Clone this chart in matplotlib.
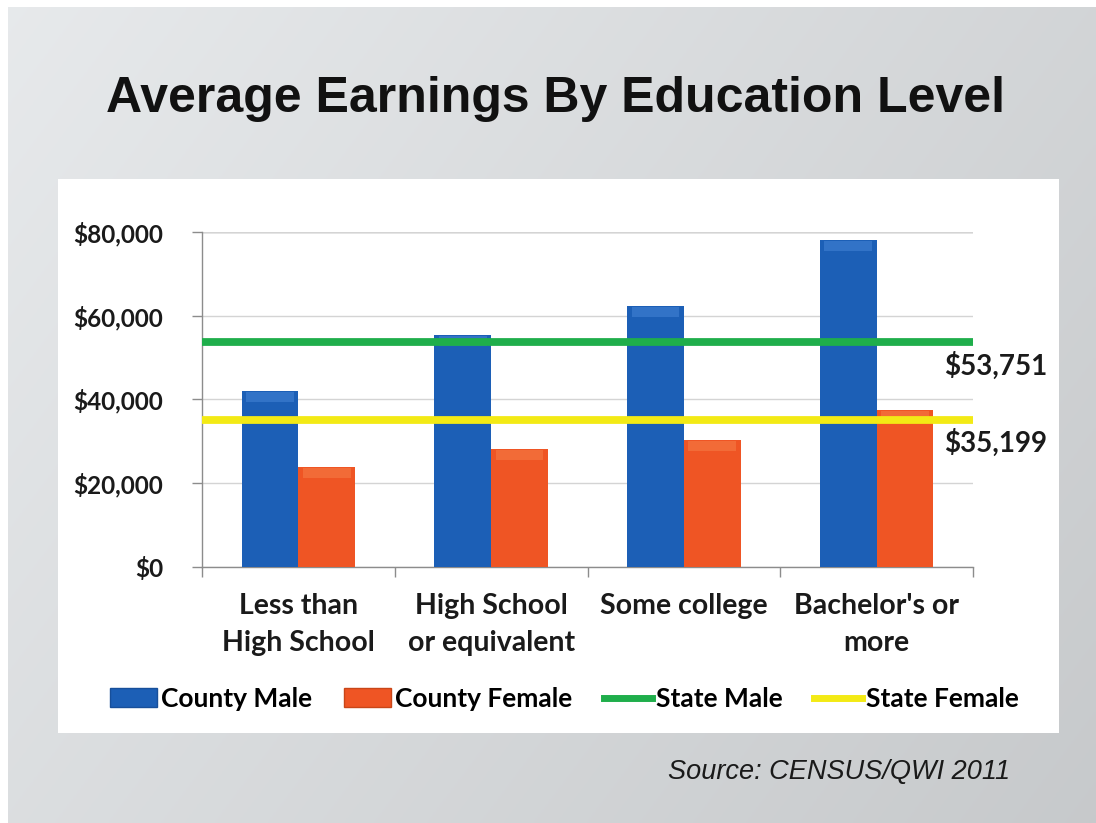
import numpy as np
import matplotlib
matplotlib.use("Agg")
import matplotlib.pyplot as plt
from matplotlib.patches import Rectangle, Patch
from matplotlib.lines import Line2D

categories = ["Less than\nHigh School", "High School\nor equivalent", "Some college", "Bachelor's or\nmore"]
county_male = [42000, 55300, 62300, 78200]
county_female = [23800, 28100, 30400, 37400]
state_male = 53751
state_female = 35199
yticks = [0, 20000, 40000, 60000, 80000]
title = "Average Earnings By Education Level"
source = "Source: CENSUS/QWI 2011"

BLUE = "#1c5fb6"
BLUE_TOP = "#4f8ddc"
ORANGE = "#ef5524"
ORANGE_TOP = "#f7874f"
GREEN = "#1fae4b"
YELLOW = "#f3ea15"

LABEL_FONT = ["Lato", "DejaVu Sans"]
W, H = 1096, 823

fig = plt.figure(figsize=(W / 100, H / 100), dpi=100, facecolor="white")

# slide background, soft grey gradient
bg = fig.add_axes([8 / W, 0, 1 - 8 / W, 1 - 7 / H])
gx, gy = np.meshgrid(np.linspace(0, 1, 300), np.linspace(0, 1, 300))
lum = 0.915 - 0.08 * gx - 0.045 * gy
img = np.dstack([lum - 0.01, lum, lum + 0.008])
bg.imshow(np.clip(img, 0, 1), aspect="auto", extent=(0, 1, 0, 1), origin="upper")
bg.set_axis_off()

# white chart panel
fig.patches.append(Rectangle((58 / W, 1 - 733 / H), (1059 - 58) / W, (733 - 179) / H,
                             transform=fig.transFigure, facecolor="white", edgecolor="none", zorder=1))

fig.text(556 / W, 1 - 99 / H, title, ha="center", va="center", fontsize=36,
         fontweight="bold", family=["Liberation Sans", "DejaVu Sans"], color="#111111")
fig.text(1010 / W, 1 - 772 / H, source, ha="right", va="center", fontsize=19.5,
         style="italic", family=["Liberation Sans", "DejaVu Sans"], color="#1a1a1a")

ax = fig.add_axes([202 / W, 1 - 567 / H, (973 - 202) / W, (567 - 232) / H], zorder=2)
ax.set_facecolor("none")

x = np.arange(len(categories))
bw = 0.295
cap = 2400
ax.bar(x - bw / 2, county_male, bw, color=BLUE, zorder=3)
ax.bar(x + bw / 2, county_female, bw, color=ORANGE, zorder=3)
# bevel highlight on the bar tops
ax.bar(x - bw / 2, [cap] * len(x), bw * 0.84, bottom=np.array(county_male) - cap * 1.1,
       color=BLUE_TOP, alpha=0.45, zorder=3.5, linewidth=0)
ax.bar(x + bw / 2, [cap] * len(x), bw * 0.84, bottom=np.array(county_female) - cap * 1.1,
       color=ORANGE_TOP, alpha=0.45, zorder=3.5, linewidth=0)

ax.axhline(state_male, color=GREEN, lw=5.6, zorder=4, solid_capstyle="butt")
ax.axhline(state_female, color=YELLOW, lw=5.6, zorder=4, solid_capstyle="butt")

for val in (state_male, state_female):
    ax.annotate(f"${val:,}", xy=(1, val), xycoords=("axes fraction", "data"),
                xytext=(-21, -17), textcoords="offset points", ha="left", va="center",
                fontsize=20, fontweight="bold", family=LABEL_FONT, color="#1a1a1a",
                annotation_clip=False, zorder=5)

ax.set_xlim(-0.5, len(categories) - 0.5)
ax.set_ylim(0, 80000)
ax.set_yticks(yticks)
ax.set_yticklabels([f"${v:,}" for v in yticks], fontsize=17.5, fontweight="bold",
                   family=LABEL_FONT, color="#1a1a1a")
ax.yaxis.grid(True, color="#d4d4d4", lw=1.0, zorder=0)
ax.axhline(80000, color="#8c8c8c", lw=1.0, zorder=1)
ax.tick_params(axis="y", length=7, width=1, color="#8c8c8c", pad=21)

ax.set_xticks(x)
ax.set_xticklabels(categories, fontsize=20.5, fontweight="bold", family=LABEL_FONT,
                   color="#1a1a1a", linespacing=1.5)
ax.set_xticks(np.arange(len(categories) + 1) - 0.5, minor=True)
ax.tick_params(axis="x", which="major", length=0, pad=19)
ax.tick_params(axis="x", which="minor", length=7, width=1, color="#8c8c8c")

for side in ("top", "right"):
    ax.spines[side].set_visible(False)
for side in ("left", "bottom"):
    ax.spines[side].set_color("#8c8c8c")
    ax.spines[side].set_linewidth(1.0)

handles = [
    Patch(facecolor=BLUE, edgecolor="#174f9a"),
    Patch(facecolor=ORANGE, edgecolor="#c94618"),
    Line2D([], [], color=GREEN, lw=5),
    Line2D([], [], color=YELLOW, lw=5),
]
labels = ["County Male", "County Female", "State Male", "State Female"]
fig.legend(handles, labels, loc="center", bbox_to_anchor=(564 / W, 1 - 699 / H), ncol=4,
           frameon=False, handlelength=1.8, handleheight=0.75, handletextpad=0.15,
           columnspacing=1.2, prop={"family": LABEL_FONT, "weight": "bold", "size": 19})

fig.savefig("out.png", dpi=100, facecolor=fig.get_facecolor())
